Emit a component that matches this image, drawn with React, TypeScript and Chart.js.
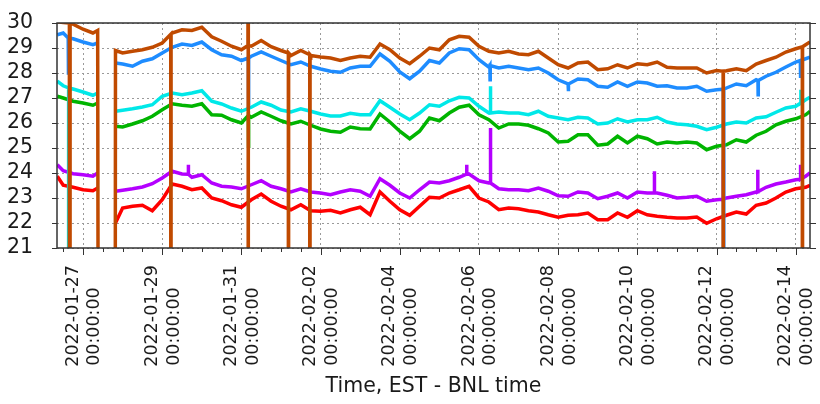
import React, { useEffect, useRef } from 'react';
import { Chart, registerables } from 'chart.js';
Chart.register(...registerables);

// Time axis: days after 2022-01-27 00:00 (EST)
const days = [
  -0.65, -0.5, -0.25, 0, 0.25, 0.37, 0.5, 0.75, 0.82,
  1.0, 1.25, 1.5, 1.75, 2.0, 2.25, 2.5, 2.75, 3.0, 3.25, 3.5, 3.75,
  4.0, 4.25, 4.5, 4.75, 5.0, 5.25, 5.5, 5.75, 6.0, 6.25, 6.5, 6.75,
  7.0, 7.25, 7.5, 7.75, 8.0, 8.25, 8.5, 8.75, 9.0, 9.25, 9.5, 9.75,
  10.0, 10.25, 10.5, 10.75, 11.0, 11.25, 11.5, 11.75, 12.0, 12.25, 12.5, 12.75,
  13.0, 13.25, 13.5, 13.75, 14.0, 14.25, 14.5, 14.75, 15.0, 15.25, 15.5, 15.75,
  16.0, 16.25, 16.5, 16.75, 17.0, 17.25, 17.5, 17.75, 18.0, 18.25, 18.36,
];

const brownValues = [
  30.05, 30.02, 29.95, 29.75, 29.6, 29.7, -100, -100, 28.9,
  28.8, 28.87, 28.93, 29.03, 29.2, 29.6, 29.73, 29.7, 29.83, 29.45, 29.27, 29.07,
  28.93, 29.07, 29.3, 29.05, 28.9, 28.7, 28.9, 28.7, 28.64, 28.6, 28.5, 28.6,
  28.67, 28.63, 29.16, 28.93, 28.6, 28.37, 28.67, 29.0, 28.93, 29.33, 29.47, 29.43,
  29.07, 28.87, 28.8, 28.87, 28.76, 28.73, 28.87, 28.6, 28.33, 28.2, 28.4, 28.44,
  28.13, 28.17, 28.33, 28.2, 28.37, 28.33, 28.44, 28.23, 28.2, 28.2, 28.2, 28.0,
  28.1, 28.09, 28.17, 28.09, 28.36, 28.5, 28.63, 28.84, 28.97, 29.13, 29.24,
];

const blueValues = [
  29.53, 29.6, 29.37, 29.24, 29.13, 29.2, null, null, 28.4,
  28.36, 28.27, 28.47, 28.57, 28.8, 29.03, 29.16, 29.1, 29.24, 28.93, 28.73, 28.67,
  28.5, 28.67, 28.84, 28.67, 28.5, 28.33, 28.44, 28.27, 28.16, 28.07, 28.03, 28.2,
  28.27, 28.27, 28.76, 28.47, 28.04, 27.77, 28.07, 28.5, 28.4, 28.8, 28.97, 28.93,
  28.53, 28.23, 28.2, 28.27, 28.2, 28.13, 28.2, 28.0, 27.73, 27.56, 27.76, 27.73,
  27.47, 27.43, 27.64, 27.47, 27.64, 27.6, 27.47, 27.49, 27.4, 27.4, 27.47, 27.27,
  27.33, 27.4, 27.56, 27.49, 27.73, 27.87, 28.03, 28.24, 28.44, 28.57, 28.63,
];

const cyanValues = [
  27.67, 27.49, 27.36, 27.24, 27.11, 27.2, null, null, 26.47,
  26.51, 26.57, 26.64, 26.73, 27.07, 27.2, 27.13, 27.2, 27.29, 26.87, 26.76, 26.6,
  26.47, 26.63, 26.84, 26.71, 26.52, 26.44, 26.57, 26.47, 26.36, 26.28, 26.28, 26.39,
  26.33, 26.33, 26.89, 26.63, 26.36, 26.13, 26.4, 26.73, 26.67, 26.89, 27.03, 27.0,
  26.67, 26.4, 26.44, 26.4, 26.4, 26.33, 26.47, 26.27, 26.2, 26.13, 26.23, 26.2,
  25.96, 26.0, 26.17, 26.04, 26.13, 26.13, 26.23, 26.04, 25.96, 25.93, 25.87, 25.73,
  25.83, 25.96, 26.04, 26.0, 26.2, 26.25, 26.43, 26.6, 26.67, 26.93, 27.03,
];

const greenValues = [
  27.07, 27.0, 26.87, 26.8, 26.71, 26.8, null, null, 25.87,
  25.84, 25.96, 26.09, 26.27, 26.53, 26.77, 26.71, 26.67, 26.77, 26.33, 26.31, 26.13,
  26.0, 26.23, 26.44, 26.27, 26.09, 25.96, 26.07, 25.91, 25.76, 25.67, 25.63, 25.84,
  25.77, 25.76, 26.36, 26.04, 25.67, 25.37, 25.67, 26.2, 26.09, 26.4, 26.63, 26.71,
  26.33, 26.13, 25.8, 25.96, 25.96, 25.91, 25.77, 25.6, 25.24, 25.27, 25.53, 25.53,
  25.11, 25.16, 25.47, 25.2, 25.47, 25.37, 25.16, 25.24, 25.2, 25.24, 25.2, 24.93,
  25.07, 25.13, 25.33, 25.24, 25.51, 25.67, 25.93, 26.07, 26.17, 26.33, 26.47,
];

const purpleValues = [
  24.33, 24.09, 23.97, 23.93, 23.87, 24.0, null, null, 23.27,
  23.31, 23.37, 23.44, 23.57, 23.8, 24.07, 23.96, 23.83, 23.93, 23.6, 23.47, 23.44,
  23.37, 23.53, 23.69, 23.47, 23.37, 23.24, 23.37, 23.24, 23.2, 23.13, 23.24, 23.33,
  23.27, 23.07, 23.77, 23.51, 23.2, 23.0, 23.33, 23.64, 23.6, 23.69, 23.83, 23.96,
  23.69, 23.6, 23.37, 23.33, 23.33, 23.29, 23.4, 23.27, 23.09, 23.07, 23.24, 23.2,
  22.97, 23.07, 23.2, 23.0, 23.24, 23.2, 23.2, 23.11, 23.0, 23.03, 23.07, 22.87,
  22.93, 23.0, 23.07, 23.13, 23.24, 23.43, 23.56, 23.64, 23.73, 23.87, 24.0,
];

const redValues = [
  23.87, 23.51, 23.43, 23.33, 23.29, 23.4, null, null, 22.0,
  22.6, 22.67, 22.71, 22.49, 22.93, 23.56, 23.47, 23.33, 23.4, 23.0, 22.89, 22.73,
  22.63, 22.93, 23.16, 22.87, 22.67, 22.53, 22.73, 22.49, 22.47, 22.51, 22.4, 22.53,
  22.63, 22.33, 23.24, 22.87, 22.53, 22.31, 22.67, 23.03, 23.0, 23.2, 23.33, 23.47,
  23.0, 22.84, 22.53, 22.6, 22.57, 22.49, 22.44, 22.33, 22.23, 22.31, 22.33, 22.4,
  22.13, 22.13, 22.4, 22.23, 22.49, 22.33, 22.27, 22.23, 22.2, 22.2, 22.24, 21.99,
  22.17, 22.31, 22.44, 22.36, 22.71, 22.8, 23.0, 23.24, 23.37, 23.43, 23.51,
];

// Short glitches: [day, level before/after, glitch value]
const brownSpikes = [
  [-0.34, 30.0, 100], [-0.33, 30.0, -100], [2.22, 29.55, -100],
  [4.17, 29.1, 100], [4.175, 29.1, -100], [5.19, 28.8, -100],
  [5.73, 28.73, -100], [16.17, 28.07, -100], [18.17, 29.05, -100],
];
const blueSpikes = [
  [-0.37, 29.4, 27.93], [4.18, 28.6, 26.6], [10.28, 28.3, 27.73],
  [12.26, 27.56, 27.27], [16.18, 27.35, -100], [17.05, 27.7, 27.13],
  [18.12, 28.5, 27.8],
];
const cyanSpikes = [[-0.36, 27.4, -100], [10.29, 26.4, 27.47], [18.13, 26.8, 27.33]];
const greenSpikes = [[4.18, 26.3, 25.0]];
const purpleSpikes = [
  [2.66, 23.95, 24.33], [9.69, 23.95, 24.33], [10.29, 23.6, 25.8],
  [14.43, 23.2, 24.07], [16.17, 22.95, 24.53], [17.04, 23.25, 24.13],
  [18.12, 23.75, 24.33],
];
const redSpikes: number[][] = [];

const labelDays = [0, 2, 4, 6, 8, 10, 12, 14, 16, 18];
const yTickValues = [21, 22, 23, 24, 25, 26, 27, 28, 29, 30];

function buildSeries(values: (number | null)[], spikes: number[][]) {
  const pts: { x: number; y: number | null }[] = days.map((d, i) => ({ x: d, y: values[i] }));
  spikes.forEach(([d, base, peak]) => {
    pts.push({ x: d - 0.004, y: base }, { x: d, y: peak }, { x: d + 0.004, y: base });
  });
  pts.sort((a, b) => a.x - b.x);
  return pts;
}

function dateLabel(v: number) {
  const t = Date.UTC(2022, 0, 27) + Math.round(v) * 86400000;
  return new Date(t).toISOString().slice(0, 10);
}

const framePlugin = {
  id: 'frame',
  afterDatasetsDraw(chart: any) {
    const { ctx, chartArea } = chart;
    const { left, right, top, bottom } = chartArea;
    const x = chart.scales.x;
    const y = chart.scales.y;
    ctx.save();
    ctx.strokeStyle = '#333';
    ctx.lineWidth = 1;
    ctx.beginPath();
    yTickValues.forEach((v) => {
      const py = Math.round(y.getPixelForValue(v)) + 0.5;
      ctx.moveTo(left - 5, py);
      ctx.lineTo(left, py);
      ctx.moveTo(right, py);
      ctx.lineTo(right + 6, py);
    });
    for (let h = -1; h <= 36; h++) {
      const v = h / 2;
      const px = Math.round(x.getPixelForValue(v)) + 0.5;
      const len = h % 4 === 0 ? 7 : 4;
      ctx.moveTo(px, bottom);
      ctx.lineTo(px, bottom + len);
    }
    ctx.stroke();
    ctx.lineWidth = 1.5;
    ctx.strokeRect(left, top, right - left, bottom - top);
    ctx.restore();
  },
};

export default function App() {
  const ref = useRef<HTMLCanvasElement | null>(null);
  useEffect(() => {
    if (!ref.current) return;
    Chart.defaults.font.family = "'DejaVu Sans', sans-serif";
    const mk = (label: string, color: string, vals: (number | null)[], sp: number[][]) => ({
      label,
      data: buildSeries(vals, sp),
      borderColor: color,
      backgroundColor: color,
      borderWidth: 3.5,
      pointRadius: 0,
      tension: 0,
      spanGaps: false,
    });
    const chart = new Chart(ref.current, {
      type: 'line',
      data: {
        datasets: [
          mk('brown', '#c04a00', brownValues, brownSpikes),
          mk('blue', '#1e8cff', blueValues, blueSpikes),
          mk('cyan', '#00e8e8', cyanValues, cyanSpikes),
          mk('green', '#00b400', greenValues, greenSpikes),
          mk('red', '#ff0000', redValues, redSpikes),
          mk('purple', '#b400ff', purpleValues, purpleSpikes),
        ],
      },
      options: {
        responsive: false,
        animation: false,
        devicePixelRatio: 1,
        layout: { padding: { left: 0, right: 10, top: 23, bottom: 0 } },
        plugins: { legend: { display: false }, tooltip: { enabled: false } },
        scales: {
          x: {
            type: 'linear',
            min: -0.657,
            max: 18.36,
            afterBuildTicks: (scale: any) => {
              scale.ticks = labelDays.map((v) => ({ value: v }));
            },
            afterFit: (scale: any) => {
              scale.height = 156;
              scale.paddingLeft = 0;
              scale.paddingRight = 0;
            },
            grid: { color: '#9a9a9a', lineWidth: 1, drawTicks: false },
            border: { display: false, dash: [2, 3] },
            ticks: {
              autoSkip: false,
              minRotation: 90,
              maxRotation: 90,
              padding: 17,
              labelOffset: -10,
              color: '#1a1a1a',
              font: { size: 17.5, lineHeight: 1.25 },
              callback: (v: any) => [dateLabel(Number(v)), '00:00:00    '],
            },
            title: {
              display: true,
              text: 'Time, EST - BNL time',
              color: '#1a1a1a',
              font: { size: 20.5 },
              padding: { top: 0, bottom: 5 },
            },
          },
          y: {
            min: 21,
            max: 30,
            afterBuildTicks: (scale: any) => {
              scale.ticks = yTickValues.map((v) => ({ value: v }));
            },
            afterFit: (scale: any) => {
              scale.width = 57;
              scale.paddingTop = 0;
              scale.paddingBottom = 0;
            },
            grid: { color: '#9a9a9a', lineWidth: 1, drawTicks: false },
            border: { display: false, dash: [2, 3] },
            ticks: {
              autoSkip: false,
              padding: 24,
              color: '#1a1a1a',
              font: { size: 20.5 },
            },
          },
        },
      },
      plugins: [framePlugin],
    } as any);
    return () => chart.destroy();
  }, []);
  return (
    <div style={{ position: 'absolute', left: 0, top: 0, width: 820, height: 404, background: '#fff' }}>
      <canvas ref={ref} width={820} height={404} />
    </div>
  );
}
